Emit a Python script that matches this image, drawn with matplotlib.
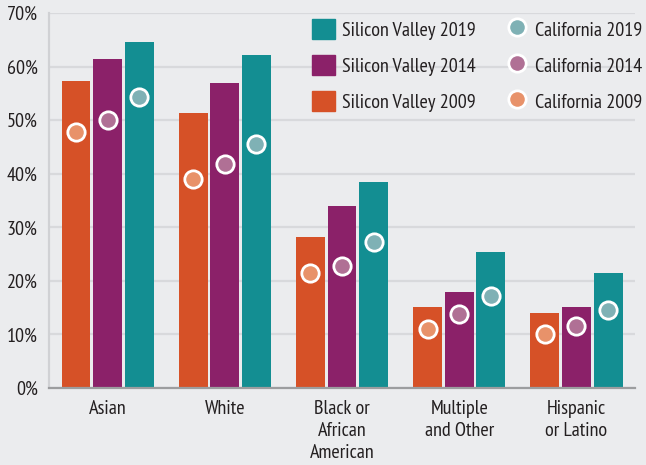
import matplotlib
matplotlib.use("Agg")
import matplotlib.pyplot as plt
import numpy as np
from matplotlib.patches import Patch
from matplotlib.lines import Line2D

# fonte condensada parecida com a do original
plt.rcParams["font.family"] = ["PT Sans Narrow", "Roboto Condensed", "DejaVu Sans"]

categories = ["Asian", "White", "Black or\nAfrican\nAmerican", "Multiple\nand Other", "Hispanic\nor Latino"]
sv_2009 = [57.4, 51.4, 28.2, 15.1, 14.0]
sv_2014 = [61.4, 56.9, 34.0, 17.9, 15.1]
sv_2019 = [64.5, 62.1, 38.5, 25.4, 21.5]
ca_2009 = [47.7, 39.1, 21.5, 11.1, 10.0]
ca_2014 = [50.1, 41.8, 22.8, 13.9, 11.5]
ca_2019 = [54.4, 45.5, 27.3, 17.2, 14.5]
yticks = [0, 10, 20, 30, 40, 50, 60, 70]

BG = "#ebecee"
TXT = "#231f20"
bar_cols = ["#d65127", "#8b2169", "#138e92"]
dot_cols = ["#e8926a", "#b07095", "#7fb1b5"]
FS = 14.5

fig = plt.figure(figsize=(6.46, 4.65), dpi=100, facecolor=BG)
ax = fig.add_axes([0.0759, 0.1656, 0.9071, 0.8064])
ax.set_facecolor(BG)

x = np.arange(len(categories))
w = 0.247
off = 0.27
for k, (sv, ca) in enumerate([(sv_2009, ca_2009), (sv_2014, ca_2014), (sv_2019, ca_2019)]):
    xs = x + (k - 1) * off
    ax.bar(xs, sv, width=w, color=bar_cols[k], zorder=2)
    ax.plot(xs, ca, "o", ms=12.5, mfc=dot_cols[k], mec="white", mew=2, zorder=3, ls="none")

ax.set_xlim(-0.5, len(categories) - 0.5)
ax.set_ylim(0, 70)
ax.set_yticks(yticks)
ax.set_yticklabels([f"{t}%" for t in yticks])
ax.set_xticks(x)
ax.set_xticklabels(categories, linespacing=1.28)
ax.tick_params(axis="both", length=0, labelsize=FS, colors=TXT)
ax.tick_params(axis="y", pad=8)
ax.tick_params(axis="x", pad=9)
ax.grid(axis="y", color="#d8d9dc", lw=1.6, zorder=0)
for s in ["top", "right"]:
    ax.spines[s].set_visible(False)
ax.spines["left"].set_color("#d0d1d4")
ax.spines["left"].set_linewidth(1.6)
ax.spines["bottom"].set_color("#9c9d9f")
ax.spines["bottom"].set_linewidth(1.6)
ax.spines["bottom"].set_zorder(4)

handles = [Patch(color=bar_cols[2], label="Silicon Valley 2019"),
           Patch(color=bar_cols[1], label="Silicon Valley 2014"),
           Patch(color=bar_cols[0], label="Silicon Valley 2009")]
handles += [Line2D([], [], marker="o", ls="none", ms=12.5, mfc=dot_cols[k], mec="white", mew=2,
                   label=f"California {y}") for k, y in [(2, 2019), (1, 2014), (0, 2009)]]
ax.legend(handles=handles, ncol=2, frameon=False, loc="upper right",
          bbox_to_anchor=(1.01, 0.981), bbox_transform=fig.transFigure,
          fontsize=FS, labelcolor=TXT, handlelength=1.15, handleheight=1.15,
          handletextpad=0.35, columnspacing=1.45, labelspacing=0.75, borderaxespad=0.1)

fig.savefig("out.png", dpi=100, facecolor=BG)
